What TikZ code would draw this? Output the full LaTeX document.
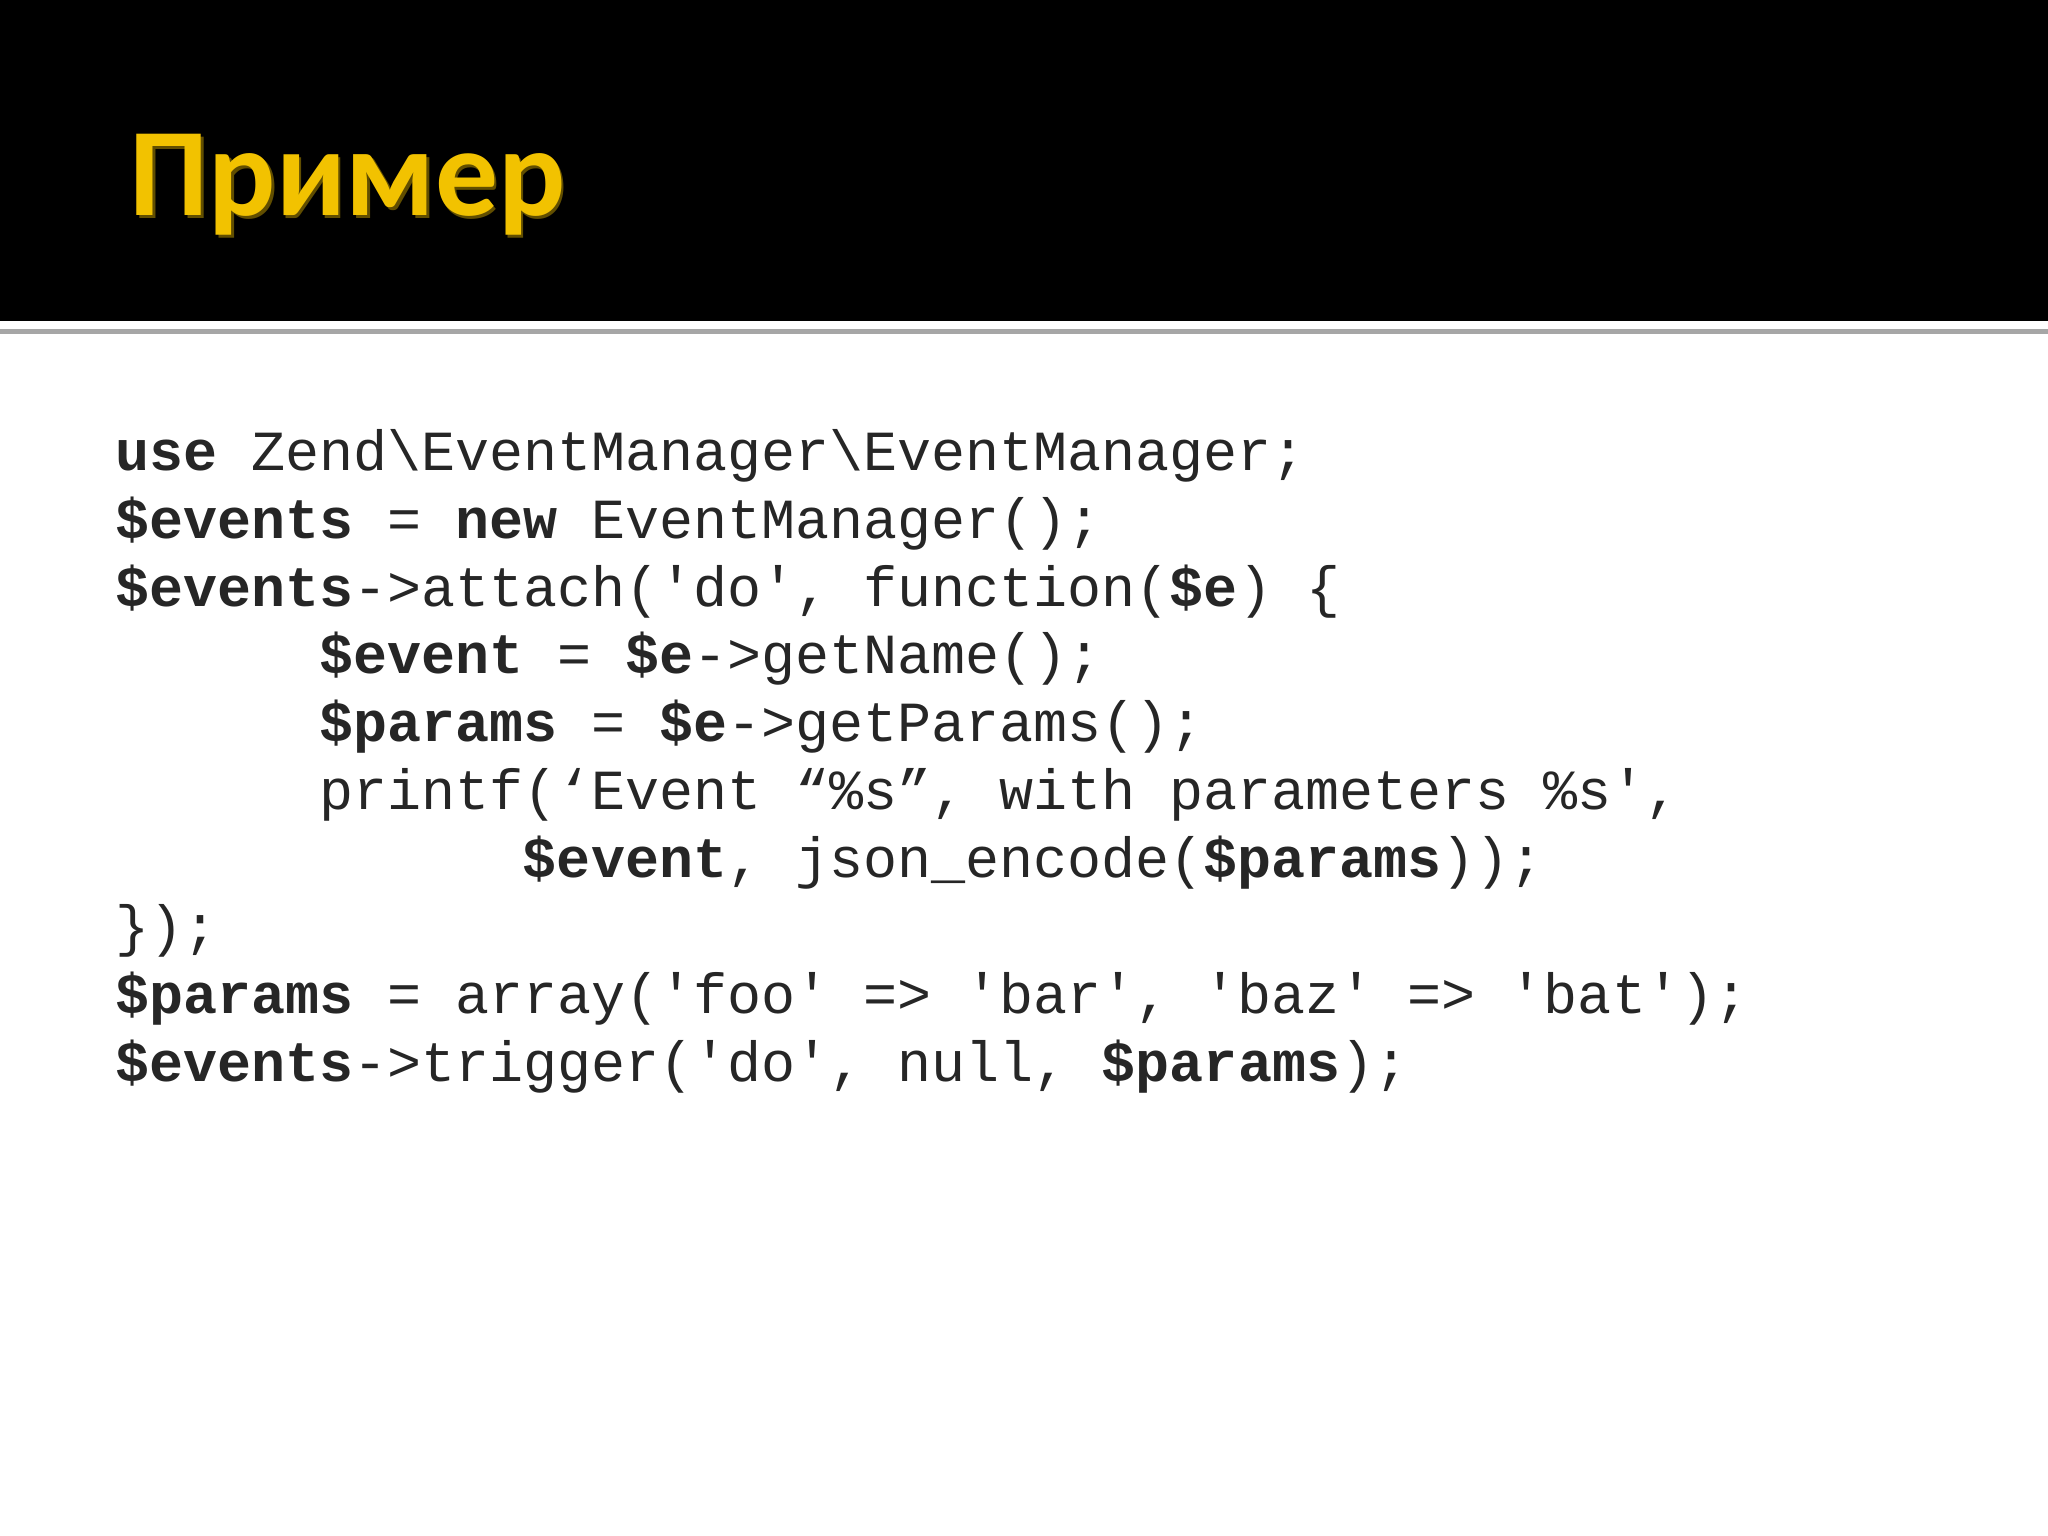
\documentclass[tikz,border=0pt]{standalone}
\usepackage{fontspec}
\newfontfamily\code{Liberation Mono}
\newfontfamily\titlefont{Carlito}
\definecolor{titleyellow}{HTML}{F2C200}
\newcommand{\sq}{\char39\relax}
\begin{document}
\begin{tikzpicture}[x=0.5pt,y=-0.5pt,
  codeline/.style={anchor=base west,inner sep=0pt,font=\code\fontsize{21.7pt}{26pt}\selectfont,text=black!85}]
\useasboundingbox (0,0) rectangle (1568,1176);
\fill[white] (0,0) rectangle (1568,1176);
\fill[black] (0,0) rectangle (1568,246);
\fill[black!35] (0,252) rectangle (1568,256);
\node[anchor=base west,inner sep=0pt,font=\titlefont\bfseries\fontsize{48pt}{56pt}\selectfont,text=black!60!titleyellow] at (100.8,167.2) {Пример};
\node (title) [anchor=base west,inner sep=0pt,font=\titlefont\bfseries\fontsize{48pt}{56pt}\selectfont,text=titleyellow] at (99,165) {Пример};
\def\cw{26}
\node (l1) [codeline] at (88,360) {\textbf{use} Zend\textbackslash EventManager\textbackslash EventManager;};
\node (l2) [codeline] at (88,412) {\textbf{\$events} = \textbf{new} EventManager();};
\node (l3) [codeline] at (88,464) {\textbf{\$events}->attach(\sq do\sq, function(\textbf{\$e}) \{};
\node (l4) [codeline] at (88+6*\cw,516) {\textbf{\$event} = \textbf{\$e}->getName();};
\node (l5) [codeline] at (88+6*\cw,568) {\textbf{\$params} = \textbf{\$e}->getParams();};
\node (l6) [codeline] at (88+6*\cw,620) {printf(‘Event “\%s”, with parameters \%s\sq,};
\node (l7) [codeline] at (88+12*\cw,672) {\textbf{\$event}, json\_encode(\textbf{\$params}));};
\node (l8) [codeline] at (88,724) {\});};
\node (l9) [codeline] at (88,776) {\textbf{\$params} = array(\sq foo\sq{} => \sq bar\sq, \sq baz\sq{} => \sq bat\sq);};
\node (l10) [codeline] at (88,828) {\textbf{\$events}->trigger(\sq do\sq, null, \textbf{\$params});};
\end{tikzpicture}
\end{document}
